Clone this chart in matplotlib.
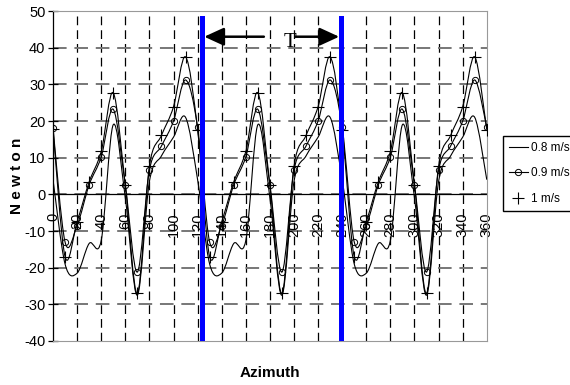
import numpy as np
import matplotlib.pyplot as plt
from matplotlib.path import Path
from matplotlib.patches import PathPatch
from matplotlib.lines import Line2D

plt.rcParams['font.family'] = ['Liberation Sans', 'DejaVu Sans']

# azimuth in degrees, one sample every 10 degrees
azimuth = list(range(0, 370, 10))

# force (Newton) at three flow speeds
force_08 = [4, -19, -21.5, -13.4, -12.6, 19, -1, -27.5, 3.5, 10.5, 15.6, 21, 4,
            -19, -21.5, -13.4, -12.6, 19, -1, -27.5, 3.5, 10.5, 15.6, 21, 4,
            -19, -21.5, -13.4, -12.6, 19, -1, -27.5, 3.5, 10.5, 15.6, 21, 4]
force_09 = [18.2, -13, -8.5, 2.6, 10.2, 23.2, 2.5, -21.2, 6.6, 13.2, 20, 31.2, 18.3,
            -13, -8.5, 2.6, 10.2, 23.2, 2.5, -21.2, 6.6, 13.2, 20, 31.2, 18.3,
            -13, -8.5, 2.6, 10.2, 23.2, 2.5, -21.2, 6.6, 13.2, 20, 31.2, 18.3]
force_10 = [17.8, -17, -7.5, 3.4, 11.7, 27.7, 2.5, -27, 7.7, 16.1, 23.9, 37.5, 17.6,
            -17, -7.5, 3.4, 11.7, 27.7, 2.5, -27, 7.7, 16.1, 23.9, 37.5, 17.6,
            -17, -7.5, 3.4, 11.7, 27.7, 2.5, -27, 7.7, 16.1, 23.9, 37.5, 17.6]

x_ticks = list(range(0, 380, 20))
y_ticks = list(range(-40, 60, 10))

# one period T marked between two vertical lines
period_start = 124
period_end = 239


def smooth_path(x, y):
    # Bezier spline through the points (spreadsheet-style smoothed line)
    x = np.asarray(x, float)
    y = np.asarray(y, float)
    pts = np.column_stack([x, y])
    ext = np.vstack([pts[0], pts, pts[-1]])
    verts = [pts[0]]
    codes = [Path.MOVETO]
    for i in range(len(pts) - 1):
        p0, p1, p2, p3 = ext[i], ext[i + 1], ext[i + 2], ext[i + 3]
        c1 = p1 + (p2 - p0) / 6.0
        c2 = p2 - (p3 - p1) / 6.0
        verts += [c1, c2, p2]
        codes += [Path.CURVE4] * 3
    return Path(verts, codes)


fig = plt.figure(figsize=(5.7, 3.85), dpi=100)
ax = fig.add_axes([0.093, 0.1143, 0.761, 0.857])

ax.set_xlim(0, 360)
ax.set_ylim(-40, 50)

# grid: black dashed verticals, grey dashed horizontals
for xv in x_ticks[1:-1]:
    ax.axvline(xv, color='black', lw=0.9, ls=(0, (7, 4)), zorder=1)
for yv in y_ticks[1:]:
    ax.axhline(yv, color='#777777', lw=1.4, ls=(0, (7, 4)), zorder=1)
ax.axhline(0, color='black', lw=0.9, zorder=2)

for series in (force_08, force_09, force_10):
    ax.add_patch(PathPatch(smooth_path(azimuth, series), fill=False,
                           edgecolor='black', lw=0.8, zorder=3))
ax.plot(azimuth, force_09, ls='none', marker='o', ms=4.5, mfc='none',
        mec='black', mew=0.7, zorder=4)
ax.plot(azimuth, force_10, ls='none', marker='+', ms=8, mec='black',
        mew=0.8, zorder=4)

# period markers
ax.plot([period_start, period_start], [-40, 48], color='#0000ff', lw=3.6, zorder=5)
ax.plot([period_end, period_end], [-40, 48], color='#0000ff', lw=3.6, zorder=5)
ax.annotate('', xy=(period_start + 1.5, 43), xytext=(175, 43),
            arrowprops=dict(arrowstyle='-|>,head_length=1.2,head_width=0.55',
                            color='black', lw=1.8, shrinkA=0, shrinkB=0), zorder=6)
ax.annotate('', xy=(period_end - 1.5, 43), xytext=(201, 43),
            arrowprops=dict(arrowstyle='-|>,head_length=1.2,head_width=0.55',
                            color='black', lw=1.8, shrinkA=0, shrinkB=0), zorder=6)
ax.text(197, 41.5, 'T', family='Liberation Serif', fontsize=15,
        ha='center', va='center', zorder=6)

# axes styling
for side in ('top', 'right', 'bottom'):
    ax.spines[side].set_color('#999999')
    ax.spines[side].set_linewidth(0.8)
ax.spines['left'].set_color('black')
ax.spines['left'].set_linewidth(0.9)

ax.set_yticks(y_ticks)
ax.set_yticklabels([str(v) for v in y_ticks], fontsize=10.5)
ax.tick_params(axis='y', direction='inout', length=7, width=0.9, pad=2)
ax.set_xticks([])

# x tick labels hang below the zero line
for xv in x_ticks:
    ax.annotate(str(xv), xy=(xv, 0), xytext=(0, -18), textcoords='offset pixels',
                rotation=90, ha='center', va='top', fontsize=10.5, zorder=2)

ax.set_ylabel('N e w t o n', fontsize=11, fontweight='bold')
ax.yaxis.set_label_coords(-0.066, 0.5)
ax.set_xlabel('Azimuth', fontsize=11, fontweight='bold', labelpad=18)

handles = [
    Line2D([], [], color='black', lw=0.8),
    Line2D([], [], color='black', lw=0.8, marker='o', ms=4.5, mfc='none', mew=0.7),
    Line2D([], [], color='none', marker='+', ms=8, mec='black', mew=0.8),
]
fig.legend(handles, ['0.8 m/s', '0.9 m/s', '1 m/s'], loc='upper left',
           bbox_to_anchor=(0.882, 0.647), fontsize=8.5, frameon=True,
           fancybox=False, edgecolor='black', framealpha=1,
           handlelength=1.6, handletextpad=0.3, labelspacing=1.15,
           borderpad=0.5, borderaxespad=0)

plt.savefig('out.png', dpi=100)
